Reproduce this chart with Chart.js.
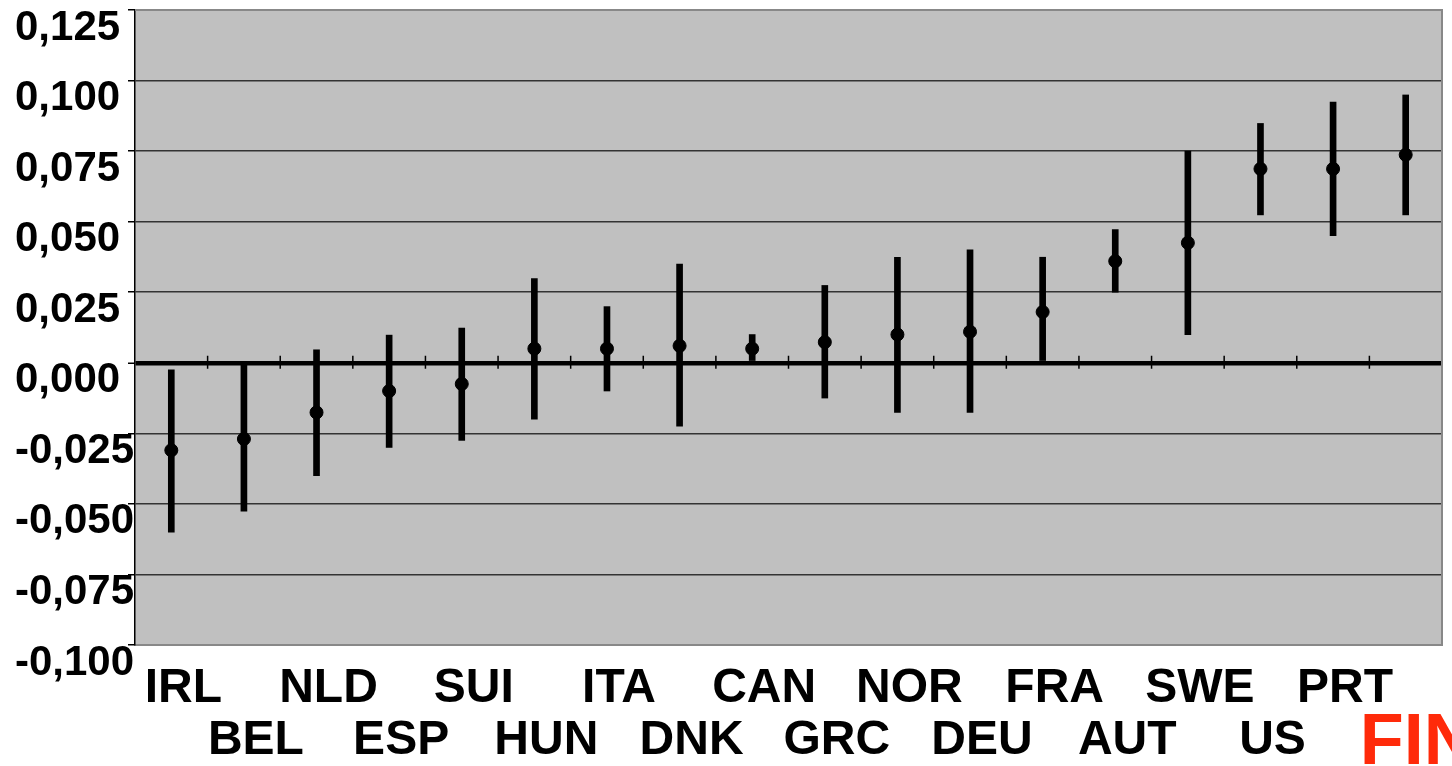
<!DOCTYPE html>
<html>
<head>
<meta charset="utf-8">
<script src="https://cdn.jsdelivr.net/npm/chart.js@4"></script>
<style>
  body { margin: 0; background: #fff; }
  #wrap { width: 1452px; height: 766px; }
</style>
</head>
<body>
<div id="wrap"><canvas id="myChart"></canvas></div>
<script>
const countries = ['IRL', 'BEL', 'NLD', 'ESP', 'SUI', 'HUN', 'ITA', 'DNK', 'CAN', 'GRC', 'NOR', 'DEU', 'FRA', 'AUT', 'SWE', 'US', 'PRT', 'FIN'];
const estimate = [-0.031, -0.027, -0.0176, -0.010, -0.0075, 0.005, 0.005, 0.006, 0.005, 0.0073, 0.010, 0.011, 0.018, 0.036, 0.0425, 0.0687, 0.0687, 0.0737];
const lower = [-0.060, -0.0526, -0.040, -0.030, -0.0275, -0.020, -0.010, -0.0225, 0, -0.0125, -0.0176, -0.0176, 0, 0.025, 0.010, 0.0524, 0.045, 0.0524];
const upper = [-0.0025, 0, 0.0046, 0.0098, 0.0123, 0.0298, 0.0199, 0.035, 0.010, 0.0274, 0.0374, 0.040, 0.0374, 0.0472, 0.075, 0.0848, 0.0924, 0.0949];
const highlight = 'FIN';

// two rows of labels, alternating
const labels = countries.map((c, i) => i % 2 === 0 ? [c, ''] : ['', c]);
const ranges = countries.map((c, i) => [lower[i], upper[i]]);

const plotArea = {
  id: 'plotArea',
  beforeDraw(chart) {
    const { ctx, chartArea: a } = chart;
    ctx.save();
    ctx.fillStyle = '#c0c0c0';
    ctx.fillRect(a.left, a.top, a.right - a.left, a.bottom - a.top);
    ctx.restore();
  },
  afterDraw(chart) {
    const { ctx, chartArea: a } = chart;
    ctx.save();
    ctx.strokeStyle = '#888';
    ctx.lineWidth = 2;
    ctx.beginPath();
    ctx.moveTo(a.left, a.top);
    ctx.lineTo(a.right, a.top);
    ctx.lineTo(a.right, a.bottom);
    ctx.stroke();
    ctx.restore();
  }
};

// small tick marks across the zero line between categories
const zeroTicks = {
  id: 'zeroTicks',
  beforeDatasetsDraw(chart) {
    const { ctx, scales: { x, y } } = chart;
    const y0 = y.getPixelForValue(0);
    const half = (x.getPixelForValue(1) - x.getPixelForValue(0)) / 2;
    ctx.save();
    ctx.strokeStyle = '#000';
    ctx.lineWidth = 1.5;
    ctx.beginPath();
    for (let i = 0; i < countries.length; i++) {
      const px = x.getPixelForValue(i) + half;
      ctx.moveTo(px, y0 - 7);
      ctx.lineTo(px, y0 + 6);
    }
    ctx.stroke();
    ctx.restore();
  }
};

const ctx = document.getElementById('myChart');

new Chart(ctx, {
  data: {
    labels: labels,
    datasets: [{
      type: 'line',
      data: estimate,
      showLine: false,
      pointRadius: 6.5,
      pointBackgroundColor: '#000',
      pointBorderColor: '#000',
      order: 0
    }, {
      type: 'bar',
      data: ranges,
      backgroundColor: '#000',
      barThickness: 6,
      order: 1
    }]
  },
  options: {
    responsive: true,
    maintainAspectRatio: false,
    animation: false,
    layout: { padding: { left: 15, right: 10, top: 10, bottom: 0 } },
    plugins: {
      legend: { display: false },
      tooltip: { enabled: false }
    },
    scales: {
      x: {
        grid: { display: true, drawOnChartArea: false, drawTicks: false },
        border: { color: '#888', width: 2 },
        ticks: {
          autoSkip: false,
          maxRotation: 0,
          padding: 18,
          labelOffset: 12,
          font: c => countries[c.index] === highlight
            ? { family: "'Liberation Sans', Arial, sans-serif", size: 72, weight: 'bold', lineHeight: 0.75 }
            : { family: "'Liberation Sans', Arial, sans-serif", size: 48, weight: 'bold', lineHeight: 1.08 },
          color: c => countries[c.index] === highlight ? '#ff2a0a' : '#000'
        },
        afterFit(scale) {
          scale.height = 121;
          scale.paddingLeft = 0;
          scale.paddingRight = 0;
        }
      },
      y: {
        min: -0.1,
        max: 0.125,
        grid: {
          color: c => c.tick.value === 0 ? '#000' : (c.tick.value > 0.12 ? '#888' : '#333'),
          lineWidth: c => c.tick.value === 0 ? 4.5 : 1.5,
          tickColor: '#000',
          tickWidth: 1.5,
          tickLength: 7
        },
        border: { color: '#000', width: 1.5 },
        ticks: {
          stepSize: 0.025,
          crossAlign: 'far',
          labelOffset: 18,
          font: { family: "'Liberation Sans', Arial, sans-serif", size: 42, weight: 'bold' },
          color: '#000',
          callback: v => v.toFixed(3).replace('.', ',')
        },
        afterFit(scale) {
          scale.width = 120;
          scale.paddingTop = 0;
          scale.paddingBottom = 0;
        }
      }
    }
  },
  plugins: [plotArea, zeroTicks]
});
</script>
</body>
</html>
